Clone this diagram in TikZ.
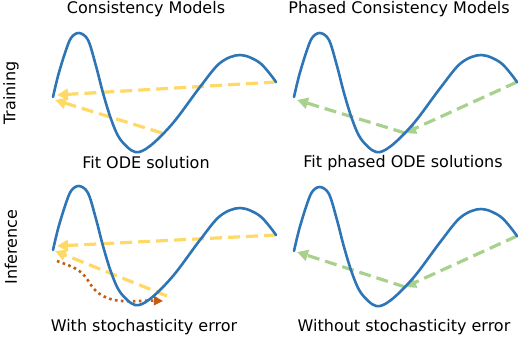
\documentclass[tikz,border=0pt]{standalone}
\usepackage{fontspec}
\setmainfont{DejaVu Sans}
\usetikzlibrary{arrows.meta}
\definecolor{pcblue}{HTML}{2E75B6}
\definecolor{pcyellow}{HTML}{FFD966}
\definecolor{pcgreen}{HTML}{A9D18E}
\definecolor{pcbrown}{HTML}{C55A11}
\tikzset{
  pcwave/.style={line width=2.6pt, draw=pcblue, line cap=round, line join=round},
  pcjump/.style={line width=3.2pt, draw=pcyellow, dash pattern=on 12pt off 6pt, -{Triangle[length=11pt,width=11pt]}},
  pcphase/.style={line width=3.2pt, draw=pcgreen, dash pattern=on 12pt off 6pt, -{Triangle[length=11pt,width=11pt]}},
  pcdrift/.style={line width=2.6pt, draw=pcbrown, dash pattern=on 2.6pt off 3.4pt, -{Triangle[length=9pt,width=9pt]}},
  pclabel/.style={font=\fontsize{16}{18}\selectfont, inner sep=0pt},
}
\newcommand\pcwavepts{(0,0) (5,21) (12,44) (18,59) (26,64) (35,57) (43,31) (50,4)
  (58,-22) (67,-42) (82,-55) (97,-49) (120,-26) (147,10) (167,34) (187,42)
  (207,34) (223,15)}

\begin{document}
\begin{tikzpicture}[x=1pt,y=1pt]
\useasboundingbox (0,0) rectangle (518,338);
% panel anchors
\foreach \pn/\px/\py in {tl/53/241, tr/294/241, bl/53/88, br/294/87} {
  \coordinate (\pn s) at (\px,\py);
  \coordinate (\pn e) at ([shift={(223,15)}]\pn s);
}
% jump targets
\coordinate (tla) at (57,243);
\coordinate (tlb) at (162,205);
\coordinate (tlc) at (55,238);
\coordinate (trm) at (405,205);
\coordinate (trc) at (297,238);
\coordinate (bla) at (57,92);
\coordinate (blb) at (167,42);
\coordinate (blc) at (55,87);
\coordinate (bld) at (57,77);
\coordinate (blm) at (89,56);
\coordinate (blf) at (163,37);
\coordinate (brm) at (405,51);
\coordinate (brc) at (297,86);
% training
\draw[pcjump] (tle) -- (tla);
\draw[pcjump] (tlb) -- (tlc);
\draw[pcphase] (tre) -- (trm);
\draw[pcphase] (trm) -- (trc);
% inference
\draw[pcjump] (ble) -- (bla);
\draw[pcjump] (blb) -- (blc);
\draw[pcdrift] (bld) to[out=-20,in=120] (blm) to[out=-60,in=178] (blf);
\draw[pcphase] (bre) -- (brm);
\draw[pcphase] (brm) -- (brc);
% the four waves
\foreach \pn in {tl, tr, bl, br} {
  \begin{scope}[shift={(\pn s)}]
  \draw[pcwave] plot[smooth, tension=0.55] coordinates {\pcwavepts};
  \end{scope}
}
% labels
\node[pclabel] (cmtitle) at (146,329) {Consistency Models};
\node[pclabel] (pcmtitle) at (399,329) {Phased Consistency Models};
\node[pclabel, rotate=90] (train) at (11,245) {Training};
\node[pclabel, rotate=90] (infer) at (11,91) {Inference};
\node[pclabel] (cmfit) at (146,175) {Fit ODE solution};
\node[pclabel] (pcmfit) at (403,175) {Fit phased ODE solutions};
\node[pclabel] (cmerr) at (144,11) {With stochasticity error};
\node[pclabel] (pcmerr) at (404,11) {Without stochasticity error};
\end{tikzpicture}
\end{document}
